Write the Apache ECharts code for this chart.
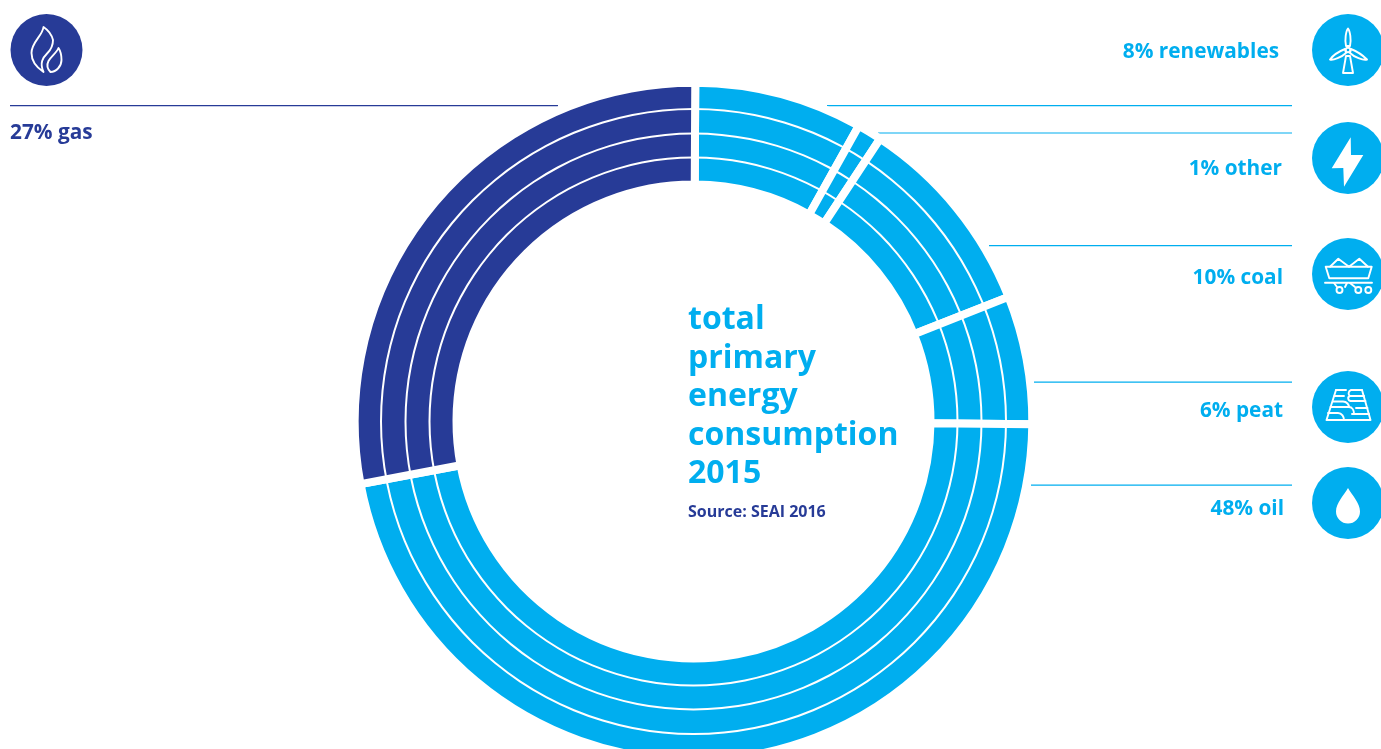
<!DOCTYPE html>
<html>
<head>
<meta charset="utf-8">
<style>html,body{margin:0;padding:0;background:#fff}#c{width:1381px;height:749px}</style>
<script src="https://cdn.jsdelivr.net/npm/echarts@6/dist/echarts.min.js"></script>
</head>
<body>
<div id="c"></div>
<script>
var categories = ['renewables', 'other', 'coal', 'peat', 'oil', 'gas'];
var arcValues = [8.03, 1.17, 9.72, 6.12, 46.92, 28.04];
var statedPercent = [8, 1, 10, 6, 48, 27];
var titleLines = ['total', 'primary', 'energy', 'consumption', '2015'];
var sourceText = 'Source: SEAI 2016';

var CYAN = '#00AEEF', NAVY = '#273B97', FONT = '"Open Sans", "Noto Sans", sans-serif';
var CX = 693.5, CY = 421.5;
var sliceColors = [CYAN, CYAN, CYAN, CYAN, CYAN, NAVY];

var layout = {
  renewables: {tx: 1279, ty: 52, x1: 827, x2: 1292, ly: 105.7, iy: 50},
  other: {tx: 1282, ty: 169, x1: 878, x2: 1292, ly: 133, iy: 158},
  coal: {tx: 1283, ty: 278, x1: 989, x2: 1292, ly: 245.7, iy: 274},
  peat: {tx: 1283, ty: 411, x1: 1034, x2: 1292, ly: 382.2, iy: 407},
  oil: {tx: 1284, ty: 509, x1: 1031, x2: 1292, ly: 485.2, iy: 503},
  gas: {tx: 10, ty: 133.5, x1: 10, x2: 558, ly: 105.7, iy: 50}
};

function ringSeries(r) {
  return {
    type: 'pie', silent: true, animation: false, center: [CX, CY],
    radius: [r - 1, r + 1], label: {show: false}, labelLine: {show: false},
    emphasis: {disabled: true}, itemStyle: {color: '#fff', borderWidth: 0},
    data: [{value: 1, name: 'sep'}]
  };
}

var stroke = {stroke: '#fff', lineWidth: 1.9, fill: 'none', lineJoin: 'round', lineCap: 'round'};
var fillW = {fill: '#fff', stroke: 'none'};
var icons = {
  renewables: [
    {p: 'M-2,-4 C-3.5,-10 -2,-19 0,-21.5 C2,-19 3.5,-10 2,-4 Z', s: stroke},
    {p: 'M-3,-1 C-8,1 -15,5.5 -18,9.5 C-15,10.5 -6,7 -2,3 Z', s: stroke},
    {p: 'M3,-1 C8,1 15,5.5 19,9.5 C15,10.5 6,7 2,3 Z', s: stroke},
    {p: 'M-2,6 L-5,23 L5,23 L2,6 Z', s: stroke},
    {p: 'M-2.3,0 A2.3,2.3 0 1 0 2.3,0 A2.3,2.3 0 1 0 -2.3,0 Z', s: stroke}
  ],
  other: [{p: 'M2.7,-20.7 L-16.3,10.3 L-4.7,10 L-4,28.7 L15.3,-3 L3,-3 Z', s: fillW}],
  coal: [
    {p: 'M-22.3,-7.3 L23.7,-7.3 L20.3,4.3 L-18.7,4.3 Z', s: stroke},
    {p: 'M-18,-7.3 L-9.7,-15.2 L1,-7.3 L11.3,-15.2 L20,-7.3', s: stroke},
    {p: 'M-23,8.7 L24,8.7', s: stroke},
    {p: 'M-11.5,16 A3,3 0 1 0 -5.5,16 A3,3 0 1 0 -11.5,16 Z', s: stroke},
    {p: 'M7.3,16 A3,3 0 1 0 13.3,16 A3,3 0 1 0 7.3,16 Z', s: stroke},
    {p: 'M17.3,16 A3,3 0 1 0 23.3,16 A3,3 0 1 0 17.3,16 Z', s: stroke},
    {p: 'M-14,9 L-11,13 M-3,13 L-1,9 M2,9 L7,13', s: stroke}
  ],
  peat: [
    {p: 'M-21.5,13 L22.5,13 M-21.5,13 L-12,-17 M14,-17 L22.5,13', s: stroke},
    {p: 'M-20,6 L-10,6 C-6,6 -4,10 -4,13 M4,7 L21,7', s: stroke},
    {p: 'M-17.5,0 L1,0 C4,0 6,3 6,7 M8,1 L19.5,1', s: stroke},
    {p: 'M-15,-5.5 L-5,-5.5 C-1,-5.5 1,-2 1,0 M3,-6 L17.5,-6', s: stroke},
    {p: 'M-13.5,-11 L-4,-11 M-12,-17 L-2,-17', s: stroke},
    {p: 'M14,-17 L3,-17 C0,-16 0,-12 2,-11 L16,-11 M2,-11 C-1,-10 0,-6 3,-6', s: stroke}
  ],
  oil: [{p: 'M0,-15 C-4,-8 -12,0 -12,8.5 A12,12 0 0 0 12,8.5 C12,0 4,-8 0,-15 Z', s: fillW}],
  gas: [
    {p: 'M-3,-23 C-4,-14 -15,-8 -15,3 C-15,11 -9,18 -3,22 C-7,13 -4,8 1,3 C5,-1 6.5,-7 6.5,-10 C5,-16 0,-21 -3,-23 Z', s: stroke},
    {p: 'M12,-2 C10,3 5,6 2,11 C0,15 1,19 4,22 C10,22 15,16 15,10 C15,6 14,1 12,-2 Z', s: stroke}
  ]
};

var graphics = [];
var shapeCount = 0;
categories.forEach(function (name, i) {
  var l = layout[name], col = sliceColors[i], left = name === 'gas';
  var icx = left ? 46.5 : 1348;
  graphics.push({type: 'line', silent: true, shape: {x1: l.x1, y1: l.ly, x2: l.x2, y2: l.ly}, style: {stroke: col, lineWidth: 1.2}});
  graphics.push({type: 'text', silent: true, x: l.tx, y: l.ty, style: {
    text: statedPercent[i] + '% ' + name, fill: col,
    font: 'bold 20.8px ' + FONT, textAlign: left ? 'left' : 'right', textVerticalAlign: 'middle'
  }});
  graphics.push({type: 'circle', silent: true, shape: {cx: icx, cy: l.iy, r: 36}, style: {fill: col}});
  icons[name].forEach(function (ic) {
    var shapeName = 'iconShape' + (shapeCount++);
    echarts.graphic.registerShape(shapeName, echarts.graphic.extendPath(ic.p, {}));
    graphics.push({type: shapeName, silent: true, x: icx, y: l.iy, style: ic.s});
  });
});
var titleY = [320, 359, 397, 436, 474];
titleLines.forEach(function (t, i) {
  graphics.push({type: 'text', silent: true, x: 688, y: titleY[i], style: {
    text: t, fill: CYAN, font: 'bold 32px ' + FONT, textAlign: 'left', textVerticalAlign: 'middle'
  }});
});
graphics.push({type: 'text', silent: true, x: 688, y: 512, style: {
  text: sourceText, fill: NAVY, font: 'bold 16px ' + FONT, textAlign: 'left', textVerticalAlign: 'middle'
}});

var chart = echarts.init(document.getElementById('c'), null, {renderer: 'canvas'});
chart.setOption({
  animation: false,
  backgroundColor: '#fff',
  series: [
    {
      type: 'pie', silent: true, animation: false, center: [CX, CY], radius: [237, 338.8],
      startAngle: 89.7, clockwise: true, label: {show: false}, labelLine: {show: false},
      emphasis: {disabled: true},
      itemStyle: {borderColor: '#fff', borderWidth: 8},
      data: categories.map(function (n, i) {
        return {name: n, value: arcValues[i], itemStyle: {color: sliceColors[i]}};
      })
    },
    ringSeries(264), ringSeries(288), ringSeries(312.5)
  ],
  graphic: graphics
});
</script>
</body>
</html>
